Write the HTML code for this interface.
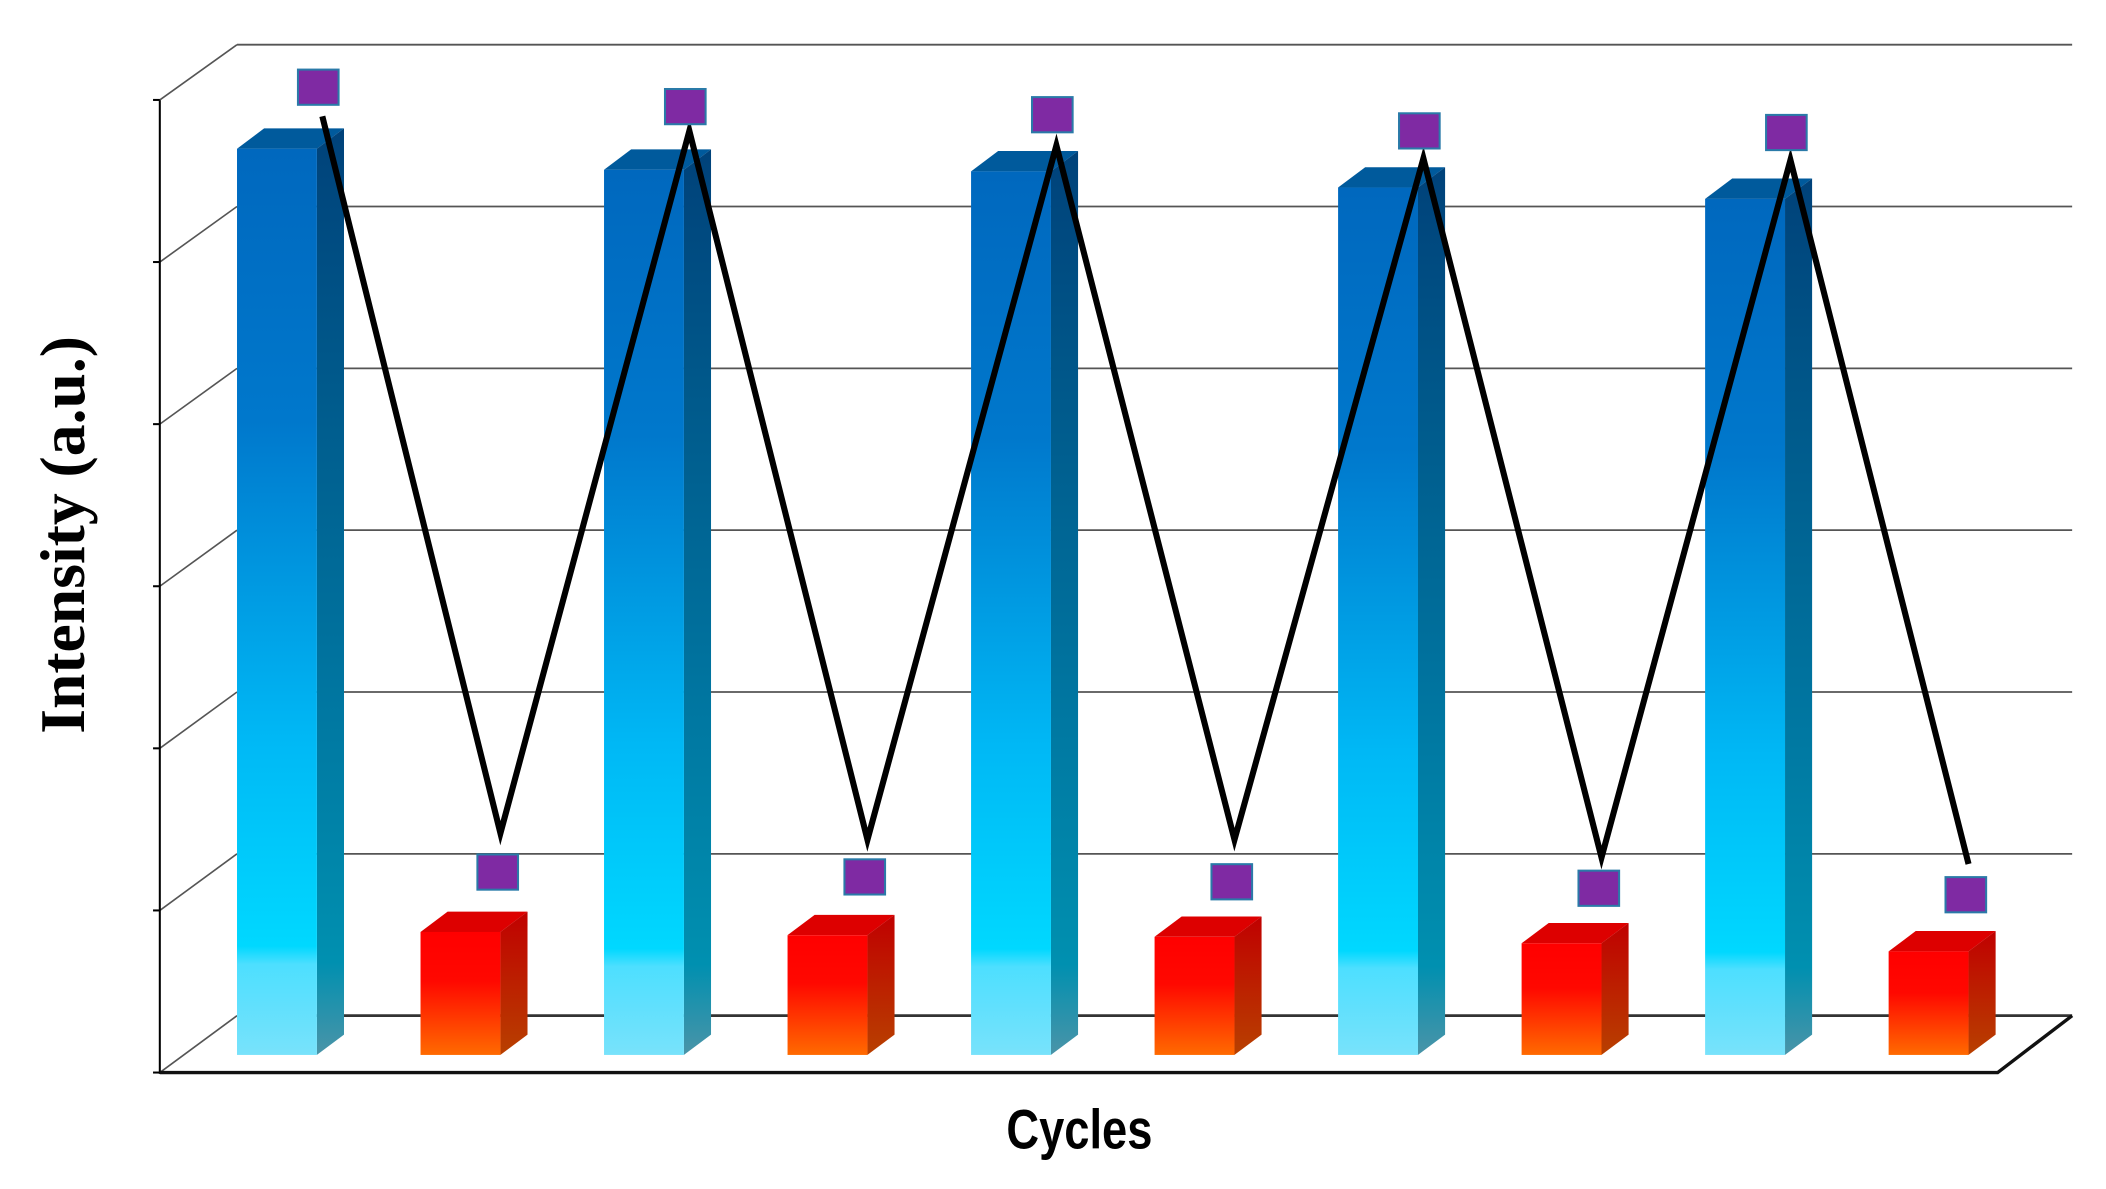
<!DOCTYPE html>
<html><head><meta charset="utf-8"><style>
html,body{margin:0;padding:0;background:#fff;}
svg{display:block;}
</style></head><body>
<svg id="chart" width="2106" height="1189" viewBox="0 0 1555 878" preserveAspectRatio="none" xmlns="http://www.w3.org/2000/svg">
<defs>
<linearGradient id="blueFront" x1="0" y1="0" x2="0" y2="1">
<stop offset="0" stop-color="#0068be"/><stop offset="0.3" stop-color="#0078cc"/><stop offset="0.65" stop-color="#00b8f5"/><stop offset="0.88" stop-color="#00d8ff"/><stop offset="0.9" stop-color="#4ddfff"/><stop offset="1" stop-color="#78e2fb"/>
</linearGradient>
<linearGradient id="blueSide" x1="0" y1="0" x2="0" y2="1">
<stop offset="0" stop-color="#00427a"/><stop offset="0.6" stop-color="#0075a0"/><stop offset="0.9" stop-color="#0090b0"/><stop offset="1" stop-color="#4a94a8"/>
</linearGradient>
<linearGradient id="redFront" x1="0" y1="0" x2="0" y2="1">
<stop offset="0" stop-color="#ff0000"/><stop offset="0.4" stop-color="#ff0800"/><stop offset="1" stop-color="#ff6a00"/>
</linearGradient>
<linearGradient id="redSide" x1="0" y1="0" x2="0" y2="1">
<stop offset="0" stop-color="#c00000"/><stop offset="1" stop-color="#b84000"/>
</linearGradient>
</defs>
<g id="frame"></g>
<g id="bars"></g>
<g id="line"></g>
<g id="markers"></g>
<text x="0" y="0" transform="translate(62,395) rotate(-90)" text-anchor="middle" font-family="Liberation Serif, serif" font-weight="bold" font-size="47">Intensity (a.u.)</text>
<text x="0" y="0" transform="translate(797,848) scale(0.88,1.08)" text-anchor="middle" font-family="Liberation Sans Narrow, Liberation Sans, sans-serif" font-weight="bold" font-size="38">Cycles</text>
</svg>
<script>
const categories = ["C1-on","C1-off","C2-on","C2-off","C3-on","C3-off","C4-on","C4-off","C5-on","C5-off"];
const barValues = [5.60,0.76,5.47,0.74,5.46,0.73,5.36,0.69,5.29,0.64];
const markerValues = [5.98,1.13,5.86,1.10,5.81,1.07,5.71,1.03,5.70,0.99];
const lineValues = [5.80,1.37,5.71,1.33,5.62,1.33,5.54,1.22,5.53,1.18];
const yTicks = [0,1,2,3,4,5,6];

const NS="http://www.w3.org/2000/svg";
function mk(tag,attrs,parent){const e=document.createElementNS(NS,tag);for(const k in attrs)e.setAttribute(k,attrs[k]);parent.appendChild(e);return e;}
const BASE=779, UNIT=119.5;
function yScale(v){return BASE-v*UNIT;}
function xScale(i){return 175+135.5*i;}
const BW=59, DX=20, DY=15;

const frame=document.getElementById('frame');
yTicks.forEach((t,k)=>{
  const yb=750-119.5*k, yf=792-119.7*k;
  const g=mk('line',{x1:175,y1:yb,x2:1530,y2:yb,stroke:k===0?'#333':'#555','stroke-width':k===0?2:1.3},frame);
  
  
  const d=mk('line',{x1:118,y1:yf,x2:175,y2:yb,stroke:'#555','stroke-width':1.2},frame);
  
  
  const tk=mk('line',{x1:113,y1:yf,x2:118,y2:yf,stroke:'#000','stroke-width':1.5},frame);
  
  
});
const ax=mk('line',{x1:118,y1:74,x2:118,y2:793,stroke:'#000','stroke-width':1.5},frame);


const fl=mk('polyline',{points:'118,792 1475,792 1530,750',fill:'none',stroke:'#111','stroke-width':2.5},frame);



const bars=document.getElementById('bars');
barValues.forEach((v,i)=>{
  const x=xScale(i), y=yScale(v), blue=i%2===0;
  const g=mk('g',{},bars);
  
  
  mk('polygon',{points:`${x},${y} ${x+DX},${y-DY} ${x+BW+DX},${y-DY} ${x+BW},${y}`,fill:blue?'#005a9c':'#dd0000'},g);
  mk('polygon',{points:`${x+BW},${y} ${x+BW+DX},${y-DY} ${x+BW+DX},${BASE-DY} ${x+BW},${BASE}`,fill:blue?'url(#blueSide)':'url(#redSide)'},g);
  mk('rect',{x:x,y:y,width:BW,height:BASE-y,fill:blue?'url(#blueFront)':'url(#redFront)'},g);
});

const line=document.getElementById('line');
const pts=lineValues.map((v,i)=>`${xScale(i)+(i%2===0?63:59)},${yScale(v)}`).join(' ');
const pl=mk('polyline',{points:pts,fill:'none',stroke:'#000','stroke-width':4.5,'stroke-linejoin':'miter'},line);



const markers=document.getElementById('markers');
markerValues.forEach((v,i)=>{
  const cx=xScale(i)+(i%2===0?60:57), cy=yScale(v);
  const r=mk('rect',{x:cx-15,y:cy-13,width:30,height:26,fill:'#7f2aa3',stroke:'#2a7aa8','stroke-width':1.5},markers);
  
  
});
</script>
</body></html>
